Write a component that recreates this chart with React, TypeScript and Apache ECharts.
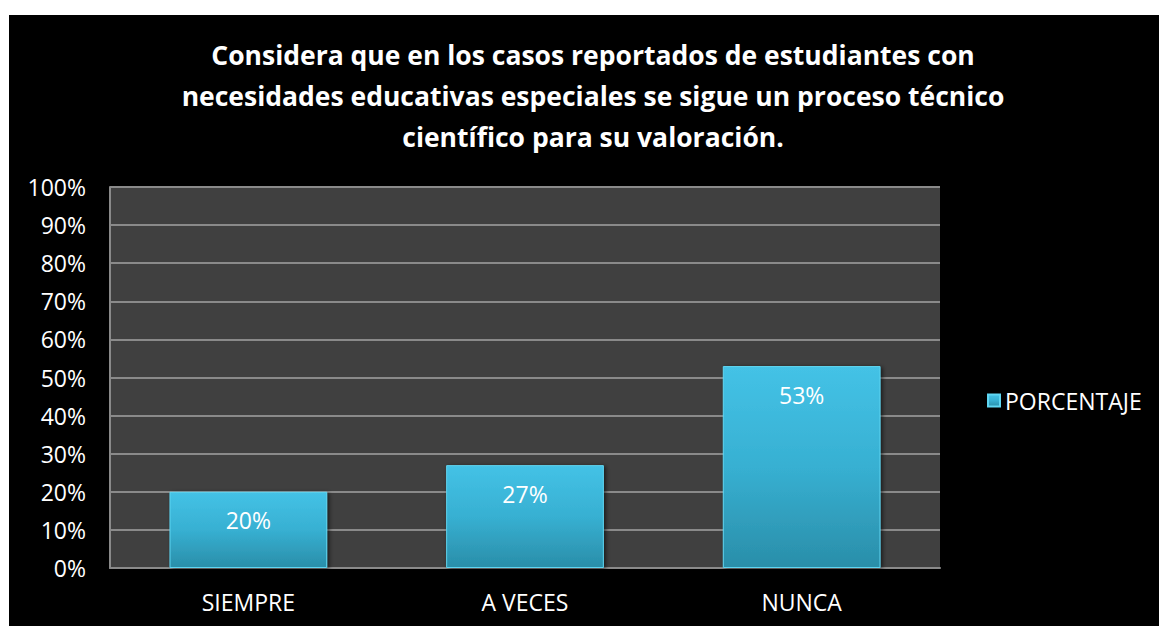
import React, { useEffect, useRef } from "react";
import * as echarts from "echarts";

const TITLE_LINES = [
  "Considera que en los casos reportados de estudiantes con",
  "necesidades educativas especiales se sigue un proceso técnico",
  "científico para su valoración.",
];
const CATEGORIES = ["SIEMPRE", "A VECES", "NUNCA"];
const SERIES_NAME = "PORCENTAJE";
const VALUES = [0.2, 0.27, 0.53];

const FONT = "'Open Sans', sans-serif";

export default function App() {
  const ref = useRef<HTMLDivElement>(null);
  useEffect(() => {
    if (!ref.current) return;
    const chart = echarts.init(ref.current, null, { renderer: "svg" });
    chart.setOption({
      animation: false,
      backgroundColor: "#ffffff",
      graphic: [
        {
          type: "rect",
          shape: { x: 9, y: 15, width: 1150, height: 611 },
          style: { fill: "#000000" },
          z: -10,
          silent: true,
        },
      ],
      title: {
        text: TITLE_LINES.join("\n"),
        left: 588,
        top: 29,
        textAlign: "center",
        textStyle: {
          color: "#ffffff",
          fontSize: 26.5,
          fontWeight: "bold",
          fontFamily: FONT,
          lineHeight: 41,
        },
      },
      legend: {
        data: [SERIES_NAME],
        left: 982,
        top: 384,
        icon: "rect",
        itemWidth: 12,
        itemHeight: 12,
        textStyle: { color: "#ffffff", fontSize: 23, fontFamily: FONT },
      },
      grid: {
        left: 110,
        top: 187,
        right: 219,
        bottom: 58,
        show: true,
        backgroundColor: "#404040",
        borderWidth: 0,
      },
      xAxis: {
        type: "category",
        data: CATEGORIES,
        axisLine: { show: true, lineStyle: { color: "#8a8a8a", width: 2 } },
        axisTick: { show: false },
        axisLabel: {
          color: "#ffffff",
          fontSize: 23,
          fontFamily: FONT,
          margin: 22,
        },
      },
      yAxis: {
        type: "value",
        min: 0,
        max: 1,
        interval: 0.1,
        axisLine: { show: true, lineStyle: { color: "#8a8a8a", width: 2 } },
        axisTick: { show: false },
        splitLine: { show: true, lineStyle: { color: "#8a8a8a", width: 2 } },
        axisLabel: {
          color: "#ffffff",
          fontSize: 23,
          fontFamily: FONT,
          margin: 24,
          formatter: (v: number) => Math.round(v * 100) + "%",
        },
      },
      series: [
        {
          name: SERIES_NAME,
          type: "bar",
          data: VALUES,
          barWidth: "57%",
          itemStyle: {
            color: new echarts.graphic.LinearGradient(0, 0, 0, 1, [
              { offset: 0, color: "#44c2e6" },
              { offset: 0.5, color: "#37b0d2" },
              { offset: 1, color: "#2a8ea9" },
            ]),
            borderColor: "#5fd6f2",
            borderWidth: 1,
            shadowColor: "rgba(0,0,0,0.6)",
            shadowBlur: 4,
            shadowOffsetX: 2,
            shadowOffsetY: 1,
          },
          label: {
            show: true,
            position: "insideTop",
            distance: 17,
            color: "#ffffff",
            fontSize: 23,
            fontFamily: FONT,
            formatter: (p: any) => Math.round(p.value * 100) + "%",
          },
        },
      ],
    });
    return () => chart.dispose();
  }, []);
  return (
    <div
      ref={ref}
      style={{ position: "fixed", left: 0, top: 0, width: 1159, height: 626 }}
    />
  );
}
